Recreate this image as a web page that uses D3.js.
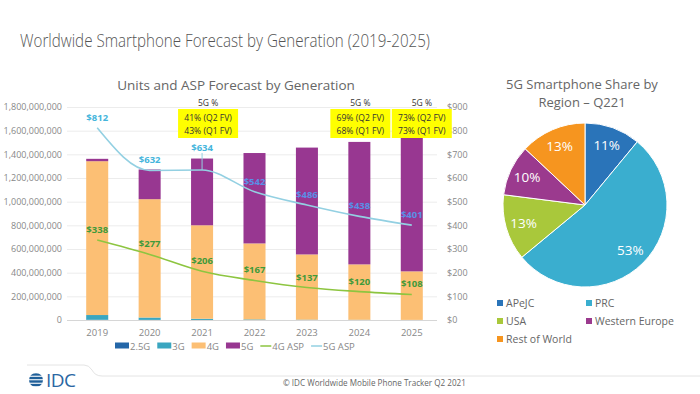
<!DOCTYPE html>
<html>
<head>
<meta charset="UTF-8" />
<title>Worldwide Smartphone Forecast by Generation</title>
<script src="https://d3js.org/d3.v7.min.js"></script>
<style>
  body { margin: 0; background: #fff; }
  text { font-family: "Open Sans", "Noto Sans", sans-serif; }
</style>
</head>
<body>
<svg id="chart" width="700" height="394"></svg>
<script>
// ---- data ----
var years = ["2019", "2020", "2021", "2022", "2023", "2024", "2025"]
var units25G = [2e6, 1e6, 0.5e6, 0, 0, 0, 0]
var units3G = [40e6, 20e6, 10e6, 5e6, 3e6, 2e6, 1e6]
var units4G = [1300e6, 1000e6, 790e6, 642e6, 551e6, 468e6, 410e6]
var units5G = [20e6, 251e6, 564e6, 764e6, 903e6, 1035e6, 1128e6]
var asp4G = [338, 277, 206, 167, 137, 120, 108]
var asp5G = [812, 632, 634, 542, 486, 438, 401]
var unitTicks = [0, 200e6, 400e6, 600e6, 800e6, 1000e6, 1200e6, 1400e6, 1600e6, 1800e6]
var aspTicks = [0, 100, 200, 300, 400, 500, 600, 700, 800, 900]
var noteYears = ["2021", "2024", "2025"]
var noteQ2 = ["41% (Q2 FV)", "69% (Q2 FV)", "73% (Q2 FV)"]
var noteQ1 = ["43% (Q1 FV)", "68% (Q1 FV)", "73% (Q1 FV)"]

var regions = ["APeJC", "PRC", "USA", "Western Europe", "Rest of World"]
var regionShare = [11, 53, 13, 10, 13]

// colours
var c25G = "#2467a8", c3G = "#3aa6c0", c4G = "#fcbf74", c5G = "#983791"
var c4GAsp = "#8dc540", c5GAsp = "#93d0e2"
var regionColors = ["#2a74b9", "#3aaecf", "#a9c83b", "#9b3a8e", "#f6951f"]
var gray = "#888"

var svg = d3.select("#chart")

// titles
svg.append("text").attr("x", 20).attr("y", 47)
  .attr("textLength", 410).attr("lengthAdjust", "spacingAndGlyphs")
  .style("font-size", "17.5px").style("font-weight", 300).style("fill", "#555")
  .text("Worldwide Smartphone Forecast by Generation (2019-2025)")

svg.append("text").attr("x", 236).attr("y", 90).attr("text-anchor", "middle")
  .style("font-size", "13.5px").style("fill", "#666")
  .text("Units and ASP Forecast by Generation")

// ---- bar + line chart ----
var x = d3.scaleBand().domain(years).range([71, 438]).paddingInner(0.58).paddingOuter(0.29)
var y = d3.scaleLinear().domain([0, 1800e6]).range([320, 107])
var y2 = d3.scaleLinear().domain([0, 900]).range([320, 107])

// grid
svg.append("g").selectAll("line").data(unitTicks).enter().append("line")
  .attr("x1", 67).attr("x2", 437)
  .attr("y1", d => y(d) + 0.5).attr("y2", d => y(d) + 0.5)
  .style("stroke", d => d == 0 ? "#d6d6d6" : "#ececec")

// left axis
var yAxis = d3.axisLeft(y).tickValues(unitTicks).tickSize(0).tickPadding(0)
  .tickFormat(d3.format(","))
var gy = svg.append("g").attr("transform", "translate(62,0)").call(yAxis)
gy.select(".domain").remove()
gy.selectAll("text").style("font-size", "9px").style("fill", gray)
  .style("font-family", "'Open Sans', sans-serif")

// right axis
var y2Axis = d3.axisRight(y2).tickValues(aspTicks).tickSize(0).tickPadding(0)
  .tickFormat(d => "$" + d)
var gy2 = svg.append("g").attr("transform", "translate(447,0)").call(y2Axis)
gy2.select(".domain").remove()
gy2.selectAll("text").style("font-size", "9px").style("fill", gray)
  .style("font-family", "'Open Sans', sans-serif")

// x axis
var xAxis = d3.axisBottom(x).tickSize(0).tickPadding(0)
var gx = svg.append("g").attr("transform", "translate(0,329)").call(xAxis)
gx.select(".domain").remove()
gx.selectAll("text").style("font-size", "9.5px").style("fill", gray)
  .style("font-family", "'Open Sans', sans-serif")

// stacked bars
var table = years.map((yr, i) => ({year: yr, g25: units25G[i], g3: units3G[i], g4: units4G[i], g5: units5G[i]}))
var keys = ["g25", "g3", "g4", "g5"]
var keyColor = d3.scaleOrdinal().domain(keys).range([c25G, c3G, c4G, c5G])
var stacked = d3.stack().keys(keys)(table)

svg.append("g").selectAll("g").data(stacked).enter().append("g")
  .style("fill", d => keyColor(d.key))
  .selectAll("rect").data(d => d).enter().append("rect")
  .attr("x", d => x(d.data.year))
  .attr("width", x.bandwidth())
  .attr("y", d => y(d[1]))
  .attr("height", d => y(d[0]) - y(d[1]))

// ASP lines
var cx = yr => x(yr) + x.bandwidth() / 2
var aspLine = d3.line().x((d, i) => cx(years[i])).y(d => y2(d)).curve(d3.curveMonotoneX)
svg.append("path").datum(asp4G).attr("d", aspLine)
  .style("fill", "none").style("stroke", c4GAsp).style("stroke-width", 1.6)
svg.append("path").datum(asp5G).attr("d", aspLine)
  .style("fill", "none").style("stroke", c5GAsp).style("stroke-width", 1.6)

// ASP labels
svg.append("g").selectAll("text").data(asp4G).enter().append("text")
  .attr("x", (d, i) => cx(years[i])).attr("y", d => y2(d) - 7)
  .attr("text-anchor", "middle")
  .style("font-size", "9.5px").style("font-weight", 700).style("fill", "#3f9a3a")
  .text(d => "$" + d)

// 2021 label sits above the bar with a small leader
svg.append("line")
  .attr("x1", cx("2021")).attr("x2", cx("2021"))
  .attr("y1", y2(asp5G[2]) - 17).attr("y2", y2(asp5G[2]))
  .style("stroke", c5GAsp).style("stroke-width", 1)

svg.append("g").selectAll("text").data(asp5G).enter().append("text")
  .attr("x", (d, i) => cx(years[i]))
  .attr("y", (d, i) => y2(d) - (i == 2 ? 19 : 7))
  .attr("text-anchor", "middle")
  .style("font-size", "9.5px").style("font-weight", 700)
  .style("fill", (d, i) => i < 3 ? "#45b5dc" : "#5a8fe6")
  .text(d => "$" + d)

// 5G % notes
var noteShift = [6, 1, 10]
noteYears.forEach(function(yr, i) {
  var mx = cx(yr) + noteShift[i]
  var g = svg.append("g")
  g.append("text").attr("x", mx).attr("y", 106).attr("text-anchor", "middle")
    .style("font-size", "8.5px").style("fill", "#333").text("5G %")
  g.append("rect").attr("x", mx - 30).attr("y", 109).attr("width", 60).attr("height", 29)
    .style("fill", "#ffff00")
  g.append("text").attr("x", mx).attr("y", 120.5).attr("text-anchor", "middle")
    .style("font-size", "8.6px").style("fill", "#333").text(noteQ2[i])
  g.append("text").attr("x", mx).attr("y", 133.5).attr("text-anchor", "middle")
    .style("font-size", "8.6px").style("fill", "#333").text(noteQ1[i])
})

// legend under the bar chart
var legendItems = [
  {name: "2.5G", color: c25G, type: "box"},
  {name: "3G", color: c3G, type: "box"},
  {name: "4G", color: c4G, type: "box"},
  {name: "5G", color: c5G, type: "box"},
  {name: "4G ASP", color: c4GAsp, type: "line"},
  {name: "5G ASP", color: c5GAsp, type: "line"}
]
var lg = svg.append("g").attr("transform", "translate(115,346)")
var lx = 0
legendItems.forEach(function(it) {
  if (it.type == "box") {
    lg.append("rect").attr("x", lx).attr("y", -3.5).attr("width", 14).attr("height", 6).style("fill", it.color)
    lx += 15
  } else {
    lg.append("line").attr("x1", lx).attr("x2", lx + 11).attr("y1", 0).attr("y2", 0)
      .style("stroke", it.color).style("stroke-width", 1.5)
    lx += 12
  }
  var t = lg.append("text").attr("x", lx).attr("y", 3.5)
    .style("font-size", "9.5px").style("fill", gray).text(it.name)
  lx += t.node().getComputedTextLength() + 7
})

// ---- pie chart ----
svg.append("text").attr("x", 582).attr("y", 89).attr("text-anchor", "middle")
  .style("font-size", "13px").style("fill", "#666").text("5G Smartphone Share by")
svg.append("text").attr("x", 582).attr("y", 107).attr("text-anchor", "middle")
  .style("font-size", "13px").style("fill", "#666").text("Region \u2013 Q221")

var pie = d3.pie().sort(null).value(d => d)
var arcs = pie(regionShare)
var arc = d3.arc().innerRadius(0).outerRadius(82)
var labelArc = d3.arc().innerRadius(64).outerRadius(64)
var pg = svg.append("g").attr("transform", "translate(585,205)")
pg.selectAll("path").data(arcs).enter().append("path")
  .attr("d", arc)
  .style("fill", (d, i) => regionColors[i])
  .style("stroke", "#fff").style("stroke-width", 1)
pg.selectAll("text").data(arcs).enter().append("text")
  .attr("transform", d => "translate(" + labelArc.centroid(d) + ")")
  .attr("text-anchor", "middle").attr("dy", "0.35em")
  .style("font-size", "13.5px").style("fill", "#fff")
  .text(d => d.data + "%")

// pie legend
var pl = svg.append("g")
regions.forEach(function(r, i) {
  var px = i % 2 == 0 ? 497 : 586
  var py = 303 + Math.floor(i / 2) * 18
  pl.append("rect").attr("x", px).attr("y", py - 3).attr("width", 6).attr("height", 6)
    .style("fill", regionColors[i])
  pl.append("text").attr("x", px + 9).attr("y", py + 4)
    .style("font-size", "10.5px").style("fill", "#666").text(r)
})

// ---- footer ----
svg.append("path")
  .attr("d", "M27,365 L84,365 Q89,365 92,370 Q95,376 102,376 L700,376")
  .style("fill", "none").style("stroke", "#e4e4e4").style("stroke-width", 1)

var logo = svg.append("g").attr("transform", "translate(36,380)")
logo.append("clipPath").attr("id", "globe").append("circle").attr("r", 7)
;[-5.5, -2, 1.5, 5].forEach(function(dy) {
  logo.append("rect").attr("x", -7).attr("y", dy - 1.2).attr("width", 14).attr("height", 2.4)
    .attr("clip-path", "url(#globe)").style("fill", "#1f5f99")
})
svg.append("text").attr("x", 46).attr("y", 387)
  .style("font-size", "19px").style("fill", "#2a67a3").style("letter-spacing", "-0.5px")
  .text("IDC")

svg.append("text").attr("x", 283).attr("y", 386)
  .style("font-size", "8.1px").style("fill", "#666")
  .text("\u00a9 IDC Worldwide Mobile Phone Tracker Q2 2021")
</script>
</body>
</html>
